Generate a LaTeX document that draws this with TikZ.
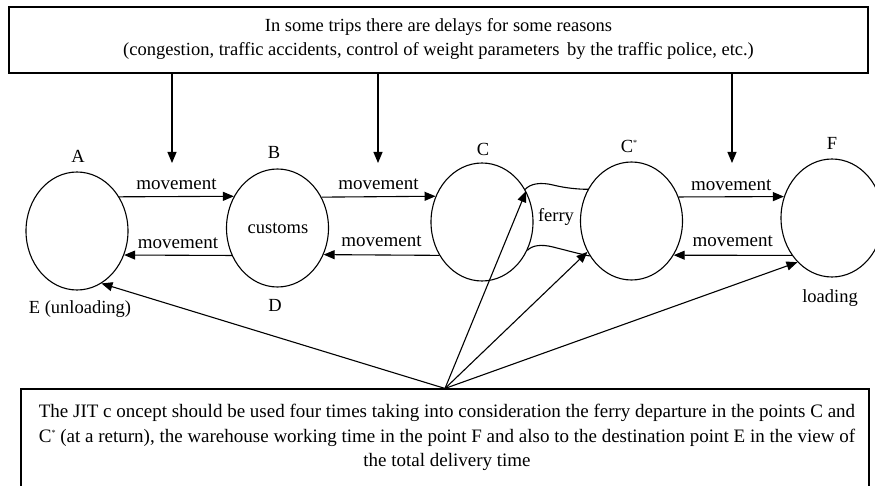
\documentclass[tikz,border=0pt]{standalone}
\usepackage{fontspec}
\setmainfont{Liberation Serif}
\usetikzlibrary{arrows.meta,shapes.geometric}
\newcommand{\starsup}{\raisebox{0.75ex}{\fontsize{8}{8}\selectfont *}}
\begin{document}
\begin{tikzpicture}[x=1pt,y=-1pt,
  lw/.style={line width=1.1pt},
  arr/.style={lw,-{Triangle[length=11pt,width=9pt]}},
  state/.style={ellipse,draw,lw,minimum width=102pt,minimum height=118pt,inner sep=0pt},
  box/.style={draw,lw,rectangle,inner sep=0pt},
  lbl/.style={font=\fontsize{18.5}{20}\selectfont,inner sep=0pt},
  mv/.style={font=\fontsize{19}{20}\selectfont,inner sep=0pt},
  txt/.style={font=\fontsize{18.5}{24}\selectfont,inner sep=0pt,align=center},
]
\useasboundingbox (0,0) rectangle (875,486);
% boxes
\node[box,minimum width=859pt,minimum height=66pt] (topbox) at (438.5,40) {};
\node[txt] (toptext) at (438.5,39) {In some trips there are delays for some reasons\\(congestion, traffic accidents, control of weight parameters\, by the traffic police, etc.)};
\node[box,minimum width=848pt,minimum height=112pt] (jitbox) at (445,445) {};
\node[txt,font=\fontsize{19}{24.5}\selectfont] (jittext) at (447,437.5) {The JIT c oncept should be used four times taking into consideration the ferry departure in the points C and\\C\starsup\ (at a return), the warehouse working time in the point F and also to the destination point E in the view of\\the total delivery time};
% states
\node[state] (A) at (77,231) {};
\node[state] (B) at (277.5,228) {};
\node[state] (C) at (482,222) {};
\node[state] (Cs) at (631.5,221) {};
\node[state] (F) at (832,218) {};
% labels
\node[lbl] (lA) at (78,156) {A};
\node[lbl] (lB) at (274,152) {B};
\node[lbl] (lC) at (483,149) {C};
\node[lbl] (lCs) at (629,146) {C\starsup};
\node[lbl] (lF) at (832,143) {F};
\node[lbl] (lE) at (80,309) {E (unloading)};
\node[lbl] (lD) at (275,305) {D};
\node[lbl] (lload) at (830,298) {loading};
\node[lbl] (lcust) at (278,228) {customs};
\node[lbl] (lferry) at (556,217) {ferry};
% movement arrows
\draw[arr] (A.39.2) -- (B.144.5) node[mv,midway,above=6pt] (m1) {movement};
\draw[arr] (B.-149.3) -- (A.-27.2) node[mv,midway,above=6pt] (m2) {movement};
\draw[arr] (B.35.5) -- (C.151.6) node[mv,midway,above=6pt] (m3) {movement};
\draw[arr] (C.-142) -- (B.-30.7) node[mv,midway,above=8pt] (m4) {movement};
\draw[arr] (Cs.27.3) -- (F.156.2) node[mv,midway,above=6pt] (m5) {movement};
\draw[arr] (F.223) -- (Cs.-39.2) node[mv,midway,above=8pt] (m6) {movement};
% ferry waves
\coordinate (fw1) at (553,185);
\coordinate (fw2) at (553,247);
\draw[lw] (C.37) .. controls +(5,-6) and +(-12,-3) .. (fw1) .. controls +(12,3) and +(-10,0) .. (Cs.144.5);
\draw[lw] (C.-32) .. controls +(5,-5) and +(-12,-3) .. (fw2) .. controls +(12,3) and +(-10,-2) .. (Cs.-140.8);
% delay arrows
\coordinate (d1) at (172,163);
\coordinate (d2) at (378,163);
\coordinate (d3) at (732,163);
\draw[arr] (topbox.south -| d1) -- (d1);
\draw[arr] (topbox.south -| d2) -- (d2);
\draw[arr] (topbox.south -| d3) -- (d3);
% JIT arrows
\draw[arr] (jitbox.north) -- (A.-65.2);
\draw[arr] (jitbox.north) -- (C.35.3);
\draw[arr] (jitbox.north) -- (Cs.215.7);
\draw[arr] (jitbox.north) -- (F.232.1);
\end{tikzpicture}
\end{document}
